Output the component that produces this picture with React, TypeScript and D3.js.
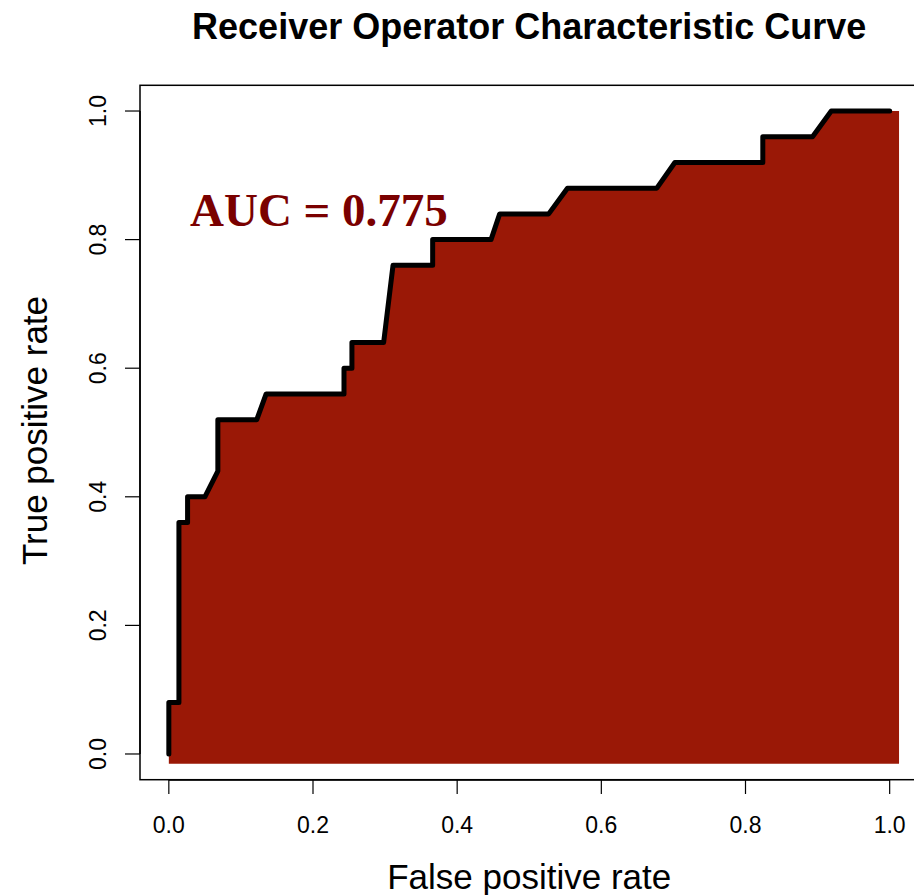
import React from "react";
import * as d3 from "d3";

const fpr = [0, 0, 0.014, 0.014, 0.026, 0.026, 0.05, 0.068, 0.068, 0.122, 0.135, 0.243, 0.243, 0.254, 0.254, 0.298, 0.311, 0.366, 0.366, 0.447, 0.459, 0.527, 0.553, 0.677, 0.702, 0.824, 0.824, 0.893, 0.919, 1.0];
const tpr = [0, 0.08, 0.08, 0.36, 0.36, 0.4, 0.4, 0.44, 0.52, 0.52, 0.56, 0.56, 0.6, 0.6, 0.64, 0.64, 0.76, 0.76, 0.8, 0.8, 0.84, 0.84, 0.88, 0.88, 0.92, 0.92, 0.96, 0.96, 1.0, 1.0];
const xTicks = [0, 0.2, 0.4, 0.6, 0.8, 1.0];
const yTicks = [0, 0.2, 0.4, 0.6, 0.8, 1.0];
const fillRight = 1.013;
const fillBottom = -0.015;
const aucLabel = "AUC = 0.775";
const title = "Receiver Operator Characteristic Curve";
const xLabel = "False positive rate";
const yLabel = "True positive rate";

export default function App() {
  const W = 914, H = 895;
  const x = d3.scaleLinear().domain([-0.04, 1.04]).range([140, 918.5]);
  const y = d3.scaleLinear().domain([-0.04, 1.04]).range([779.7, 85.3]);
  const pts: [number, number][] = fpr.map((f, i) => [f, tpr[i]]);
  const line = d3.line<[number, number]>().x(d => x(d[0])).y(d => y(d[1]));
  const fillPts: [number, number][] = [
    [0, fillBottom],
    ...pts,
    [fillRight, 1.0],
    [fillRight, fillBottom],
  ];
  const sans = "Liberation Sans, Arial, Helvetica, sans-serif";
  const cx = (140 + 918.5) / 2;
  return (
    <svg width={W} height={H} style={{ position: "absolute", left: 0, top: 0, background: "#fff" }}>
      <text x={cx} y={39} textAnchor="middle" fontFamily={sans} fontWeight="bold" fontSize={36}>{title}</text>
      <path d={line(fillPts) + "Z"} fill="#9a1806" stroke="none" />
      <path d={line(pts) || ""} fill="none" stroke="#000" strokeWidth={5} strokeLinejoin="round" strokeLinecap="round" />
      <rect x={140} y={85.3} width={800} height={779.7 - 85.3} fill="none" stroke="#000" strokeWidth={1.5} />
      {/* x axis */}
      <line x1={x(0)} x2={x(1)} y1={780} y2={780} stroke="#000" strokeWidth={1.5} />
      {xTicks.map(t => (
        <g key={"x" + t}>
          <line x1={x(t)} x2={x(t)} y1={780} y2={794} stroke="#000" strokeWidth={1.2} />
          <text x={x(t)} y={833} textAnchor="middle" fontFamily={sans} fontSize={23}>{t.toFixed(1)}</text>
        </g>
      ))}
      {/* y axis */}
      <line x1={140} x2={140} y1={y(0)} y2={y(1)} stroke="#000" strokeWidth={1.5} />
      {yTicks.map(t => (
        <g key={"y" + t}>
          <line x1={125} x2={140} y1={y(t)} y2={y(t)} stroke="#000" strokeWidth={1.2} />
          <text transform={`translate(106,${y(t)}) rotate(-90)`} textAnchor="middle" fontFamily={sans} fontSize={23}>{t.toFixed(1)}</text>
        </g>
      ))}
      <text x={cx} y={889} textAnchor="middle" fontFamily={sans} fontSize={35}>{xLabel}</text>
      <text transform={`translate(47,430.5) rotate(-90)`} textAnchor="middle" fontFamily={sans} fontSize={35}>{yLabel}</text>
      <text x={190} y={226} fontFamily="Liberation Serif, Times New Roman, serif" fontWeight="bold" fontSize={47} fill="#7a0000">{aucLabel}</text>
    </svg>
  );
}
